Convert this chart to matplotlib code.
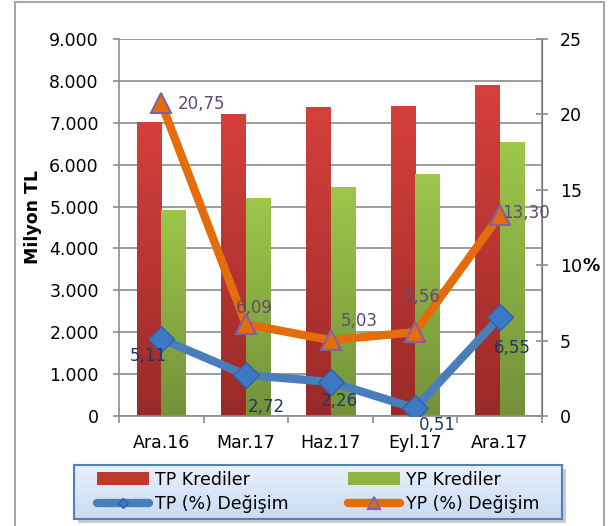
import numpy as np
import matplotlib.pyplot as plt
from matplotlib.colors import LinearSegmentedColormap
from matplotlib.lines import Line2D
from matplotlib.patches import Patch, Rectangle

plt.rcParams['font.family'] = 'DejaVu Sans'

donemler = ["Ara.16", "Mar.17", "Haz.17", "Eyl.17", "Ara.17"]
tp_kredi = [7020, 7210, 7380, 7400, 7890]
yp_kredi = [4920, 5210, 5470, 5780, 6540]
tp_degisim = [5.11, 2.72, 2.26, 0.51, 6.55]
yp_degisim = [20.75, 6.09, 5.03, 5.56, 13.30]

# etiket konumlari (offset points)
tp_off = [(-9, -12), (15, -23), (6, -14), (16, -12), (9, -22)]
yp_off = [(12, -1), (6, 12), (21, 14), (5, 25), (19, 2)]

grid_col = '#8C8C8C'
fs = 12.5

fig = plt.figure(figsize=(6.09, 5.26), dpi=100)
ax = fig.add_axes([0.1954, 0.2091, 0.6946, 0.7168])
ax2 = ax.twinx()

x = np.arange(len(donemler))
w = 0.29
kirmizi = ax.bar(x - w / 2, tp_kredi, w, color='#C0392F', zorder=2)
yesil = ax.bar(x + w / 2, yp_kredi, w, color='#8DB43E', zorder=2)

# bar gradyanlari
cm_r = LinearSegmentedColormap.from_list('r', ['#992A28', '#D5403C'])
cm_g = LinearSegmentedColormap.from_list('g', ['#74913A', '#9DC74A'])
grad = np.linspace(0, 1, 256).reshape(-1, 1)
for bars, cm in [(kirmizi, cm_r), (yesil, cm_g)]:
    for b in bars:
        im = ax.imshow(grad, cmap=cm, origin='lower', aspect='auto', zorder=2.1,
                       extent=[b.get_x(), b.get_x() + b.get_width(), 0, b.get_height()])
        im.set_clip_path(b)

ax.set_xlim(-0.5, len(donemler) - 0.5)
ax.set_ylim(0, 9000)
ax.set_yticks(np.arange(0, 9001, 1000))
ax.set_yticklabels([f"{v:,}".replace(",", ".") for v in range(0, 9001, 1000)])
ax.yaxis.grid(True, color=grid_col, lw=1.2, zorder=0)
ax.set_axisbelow(True)
ax.set_xticks(x)
ax.set_xticklabels(donemler)
ax.set_xticks(np.arange(-0.5, len(donemler)), minor=True)
ax.tick_params(axis='x', which='major', length=0, pad=13, labelsize=fs)
ax.tick_params(axis='x', which='minor', length=5, color=grid_col, width=1.2, direction='out')
ax.tick_params(axis='y', length=4.5, color=grid_col, width=1.2, pad=10, labelsize=fs)
ax.spines['top'].set_visible(False)
ax2.spines['top'].set_visible(False)
for sp in [ax.spines['left'], ax.spines['bottom'], ax2.spines['right']]:
    sp.set_color(grid_col)
    sp.set_linewidth(1.2)
ax2.spines['left'].set_visible(False)
ax2.spines['bottom'].set_visible(False)

ax2.set_ylim(0, 25)
ax2.set_yticks(range(0, 26, 5))
ax2.tick_params(axis='y', direction='inout', length=8, color=grid_col, width=1.2,
                pad=9, labelsize=fs)

ax2.plot(x, tp_degisim, color='#4A7EBB', lw=6, marker='D', ms=13,
         mfc='#3C78C3', mec='#2F63A8', mew=1, zorder=3)
ax2.plot(x, yp_degisim, color='#E46C0A', lw=6, marker='^', ms=15,
         mfc='#E46C0A', mec='#8064A2', mew=1.5, zorder=3)

for xi, v, off in zip(x, tp_degisim, tp_off):
    ax2.annotate(f"{v:.2f}".replace(".", ","), (xi, v), xytext=off,
                 textcoords='offset points', ha='center', va='center',
                 color='#1F3864', fontsize=12)
for i, (xi, v, off) in enumerate(zip(x, yp_degisim, yp_off)):
    ax2.annotate(f"{v:.2f}".replace(".", ","), (xi, v), xytext=off,
                 textcoords='offset points', ha='left' if i == 0 else 'center',
                 va='center', color='#5F497A', fontsize=12)

fig.text(33 / 609, 1 - 217 / 526, "Milyon TL", rotation=90, ha='center', va='center',
         fontsize=fs, fontweight='bold')
fig.text(591 / 609, 1 - 266 / 526, "%", ha='center', va='center',
         fontsize=fs, fontweight='bold')

# lejant kutusu: golge + gradyanli zemin
lx, ly, lw_, lh = 74 / 609, 1 - 519 / 526, 488 / 609, 54 / 526
fig.patches.append(Rectangle((lx + 4 / 609, ly - 4 / 526), lw_, lh, transform=fig.transFigure,
                             facecolor='#BFBFBF', edgecolor='none', alpha=0.8, zorder=-1))
lax = fig.add_axes([lx, ly, lw_, lh])
cm_l = LinearSegmentedColormap.from_list('l', ['#C9DBF3', '#E9F0FA'])
lax.imshow(grad, cmap=cm_l, origin='lower', aspect='auto', extent=[0, 1, 0, 1])
lax.set_xlim(0, 1)
lax.set_ylim(0, 1)
lax.set_xticks([])
lax.set_yticks([])
for sp in lax.spines.values():
    sp.set_color('#4F81BD')
    sp.set_linewidth(1.5)

handles = [Patch(facecolor='#C0392F'),
           Line2D([], [], color='#4A7EBB', lw=6, marker='D', ms=5,
                  mfc='#3C78C3', mec='#2F63A8', solid_capstyle='round'),
           Patch(facecolor='#8DB43E'),
           Line2D([], [], color='#E46C0A', lw=6, marker='^', ms=9,
                  mfc='#E46C0A', mec='#8064A2', mew=1.5, solid_capstyle='round')]
labels = ["TP Krediler", "TP (%) Değişim", "YP Krediler", "YP (%) Değişim"]
lax.legend(handles, labels, ncol=2, loc='center', frameon=False, fontsize=fs,
           handlelength=3.0, handletextpad=0.35, labelspacing=0.4,
           columnspacing=3.4, borderpad=0, borderaxespad=0)

fig.patches.append(Rectangle((15 / 609, -0.01), 589 / 609, 1.006, transform=fig.transFigure,
                             fill=False, edgecolor='#A6A6A6', lw=1.5, zorder=10))

fig.savefig('out.png', dpi=100)
